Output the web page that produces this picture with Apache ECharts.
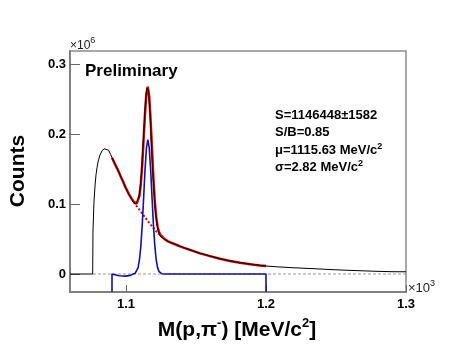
<!DOCTYPE html>
<html>
<head>
<meta charset="utf-8">
<script src="https://cdn.jsdelivr.net/npm/echarts@6/dist/echarts.min.js"></script>
<style>
  html, body { margin: 0; padding: 0; background: #ffffff; }
  #chart { width: 474px; height: 346px; }
</style>
</head>
<body>
<div id="chart"></div>
<script>
// ---- Data (x in units of 10^3 MeV/c^2, y in units of 10^6 counts) ----
const xTicks = [1.1, 1.2, 1.3];
const yTicks = [0, 0.1, 0.2, 0.3];

// data histogram (black)
const histX = [1.0600, 1.0762, 1.0764, 1.0771, 1.0779, 1.0786, 1.0793, 1.0800, 1.0814, 1.0829,
  1.0843, 1.0857, 1.0875,
  1.0890, 1.0905, 1.0920, 1.0935, 1.0950, 1.0965, 1.0980, 1.0995, 1.1010, 1.1025,
  1.1040, 1.1050, 1.1060, 1.1070, 1.1080, 1.1090, 1.1100, 1.1110, 1.1120, 1.1130,
  1.1140, 1.1150, 1.1160, 1.1170, 1.1180, 1.1190, 1.1200, 1.1210, 1.1220, 1.1230,
  1.1240, 1.1250, 1.1265, 1.1280, 1.1300, 1.1320, 1.1350, 1.1390, 1.1420, 1.1460,
  1.1490, 1.1530, 1.1600, 1.1670, 1.1740, 1.1810, 1.1890, 1.1960, 1.2000, 1.2100,
  1.2200, 1.2300, 1.2400, 1.2500, 1.2600, 1.2700, 1.2800, 1.2900, 1.3000];
const histY = [0, 0, 0.060, 0.102, 0.127, 0.142, 0.152, 0.160, 0.170, 0.176,
  0.179, 0.180, 0.177,
  0.171, 0.164, 0.158, 0.151, 0.145, 0.138, 0.132, 0.124, 0.118, 0.112,
  0.107, 0.103, 0.101, 0.100, 0.101, 0.108, 0.120, 0.142, 0.178, 0.213,
  0.248, 0.266, 0.262, 0.235, 0.193, 0.152, 0.117, 0.090, 0.073, 0.062,
  0.056, 0.053, 0.051, 0.049, 0.0466, 0.0448, 0.0425, 0.0394, 0.0370, 0.0344,
  0.0322, 0.0296, 0.0256, 0.0219, 0.0187, 0.0163, 0.0141, 0.0123, 0.0114, 0.0100,
  0.0089, 0.0080, 0.0070, 0.0060, 0.0052, 0.0045, 0.0038, 0.0033, 0.0032];

// total fit (red)
const fitX = [1.090, 1.092, 1.094, 1.096, 1.098, 1.100, 1.102, 1.104,
  1.1056, 1.1066, 1.1076, 1.1086, 1.1096, 1.1106, 1.1116, 1.1126, 1.1136, 1.1146,
  1.1156, 1.1166, 1.1176, 1.1186, 1.1196, 1.1206, 1.1216, 1.1226, 1.1236, 1.1246,
  1.1256, 1.128, 1.130, 1.132, 1.135, 1.1386, 1.1421, 1.1457, 1.1493, 1.1529,
  1.160, 1.1671, 1.1743, 1.1814, 1.1886, 1.1957, 1.200];
const fitY = [0.166, 0.1575, 0.1495, 0.1405, 0.1315, 0.1225, 0.1145, 0.1077,
  0.1031, 0.1011, 0.1005, 0.1032, 0.1118, 0.1290, 0.1567, 0.1929, 0.2303, 0.2587,
  0.2676, 0.2533, 0.2197, 0.1771, 0.1359, 0.1033, 0.0810, 0.0675, 0.0598, 0.0557,
  0.0531, 0.0492, 0.0466, 0.0448, 0.0425, 0.0395, 0.0370, 0.0345, 0.0320, 0.0295,
  0.0255, 0.0218, 0.0187, 0.0162, 0.0141, 0.0123, 0.0113];

// background under the peak (red dotted)
const bgX = [1.1056, 1.1076, 1.1096, 1.1116, 1.1136, 1.1156, 1.1176, 1.1196, 1.1216, 1.1236];
const bgY = [0.1027, 0.0971, 0.0918, 0.0865, 0.0811, 0.0756, 0.0705, 0.0657, 0.0610, 0.0564];

// signal (blue)
const sigX = [1.090, 1.090, 1.092, 1.095, 1.100, 1.103, 1.1046, 1.1056, 1.1066, 1.1076,
  1.1086, 1.1096, 1.1106, 1.1116, 1.1126, 1.1136, 1.1146, 1.1156, 1.1166, 1.1176,
  1.1186, 1.1196, 1.1206, 1.1216, 1.1226, 1.1236, 1.1246, 1.1256, 1.128, 1.200, 1.200];
const sigY = [-0.0257, 0, -0.001, -0.0025, -0.003, -0.002, -0.0005, 0.0004, 0.0012, 0.0034,
  0.0088, 0.0200, 0.0399, 0.0702, 0.1090, 0.1492, 0.1803, 0.1920, 0.1803, 0.1492,
  0.1090, 0.0702, 0.0399, 0.0200, 0.0088, 0.0034, 0.0012, 0.0004, 0, 0, -0.0257];

const zeroX = [1.0764, 1.3];
const zeroY = [0, 0];

const statLines = [
  ['S=1146448\u00b11582', ''],
  ['S/B=0.85', ''],
  ['\u03bc=1115.63 MeV/c', '2'],
  ['\u03c3=2.82 MeV/c', '2']
];

const pairs = (xs, ys) => xs.map((x, i) => [x, ys[i]]);
const FONT = "'Liberation Sans', Arial, Helvetica, sans-serif";

function supText(x, y, parts, base, sup, opts) {
  const txt = parts.map(p => p[1] ? '{s|' + p[0] + '}' : '{b|' + p[0] + '}').join('');
  return Object.assign({
    type: 'text', x: x, y: y, silent: true,
    style: {
      text: txt,
      textAlign: opts.align || 'left', align: opts.align || 'left',
      textVerticalAlign: 'middle', verticalAlign: 'middle',
      rich: {
        b: { fontFamily: FONT, fontSize: base.size, fontWeight: base.weight, lineHeight: base.lh, fill: base.color, color: base.color },
        s: { fontFamily: FONT, fontSize: sup.size, fontWeight: sup.weight, lineHeight: sup.lh, verticalAlign: 'top', fill: base.color, color: base.color }
      }
    }
  }, opts.extra || {});
}

const chart = echarts.init(document.getElementById('chart'), null, { renderer: 'canvas' });

const graphics = [];
graphics.push({
  type: 'text', x: 85, y: 71, silent: true,
  style: { text: 'Preliminary', font: 'bold 17px ' + FONT, fill: '#000',
    textAlign: 'left', align: 'left', textVerticalAlign: 'middle', verticalAlign: 'middle' }
});
const statY = [115, 132.5, 150, 167.5];
statLines.forEach((ln, i) => {
  const parts = [[ln[0], false]];
  if (ln[1]) parts.push([ln[1], true]);
  graphics.push(supText(275, statY[i], parts,
    { size: 13, weight: 'bold', lh: 16, color: '#000' },
    { size: 9, weight: 'bold', lh: 8 }, {}));
});
graphics.push({
  type: 'text', x: 18, y: 171, rotation: Math.PI / 2, silent: true,
  style: { text: 'Counts', font: 'bold 21px ' + FONT, fill: '#000',
    textAlign: 'center', align: 'center', textVerticalAlign: 'middle', verticalAlign: 'middle' }
});
graphics.push(supText(70, 46, [['\u00d710', false], ['6', true]],
  { size: 12, weight: 'normal', lh: 20, color: '#222' },
  { size: 9, weight: 'normal', lh: 6 }, {}));
graphics.push(supText(408, 288.5, [['\u00d710', false], ['3', true]],
  { size: 13, weight: 'normal', lh: 18, color: '#222' },
  { size: 9, weight: 'normal', lh: 6 }, {}));
graphics.push(supText(237, 330, [['M(p,\u03c0', false], ['-', true], [') [MeV/c', false], ['2', true], [']', false]],
  { size: 21, weight: 'bold', lh: 26, color: '#000' },
  { size: 13, weight: 'bold', lh: 11 }, { align: 'center' }));

chart.setOption({
  animation: false,
  backgroundColor: '#ffffff',
  grid: { left: 70, right: 68, top: 51, bottom: 54, show: true, borderColor: '#8a8a8a', borderWidth: 1.5, containLabel: false },
  xAxis: {
    type: 'value', min: 1.06, max: 1.3,
    axisLine: { show: true, onZero: false, lineStyle: { color: '#808080', width: 2 } },
    axisTick: { show: true, inside: true, length: 7, customValues: xTicks, lineStyle: { color: '#666', width: 1 } },
    axisLabel: { customValues: xTicks, margin: 6, fontFamily: FONT, fontSize: 13, fontWeight: 'bold', color: '#000',
      formatter: v => v.toFixed(1) },
    splitLine: { show: false }
  },
  yAxis: {
    type: 'value', min: -0.0257, max: 0.3186,
    axisLine: { show: true, onZero: false, lineStyle: { color: '#808080', width: 2 } },
    axisTick: { show: true, inside: true, length: 10, customValues: yTicks, lineStyle: { color: '#666', width: 1 } },
    axisLabel: { customValues: yTicks, margin: 4, fontFamily: FONT, fontSize: 13, fontWeight: 'bold', color: '#000',
      formatter: v => (Math.abs(v) < 1e-9 ? '0' : v.toFixed(1)) },
    splitLine: { show: false }
  },
  series: [
    { type: 'line', data: pairs(zeroX, zeroY), symbol: 'none', silent: true,
      lineStyle: { color: '#999', width: 1, type: [3, 2] } },
    { type: 'line', data: pairs(fitX, fitY), symbol: 'none', silent: true,
      lineStyle: { color: '#e00000', width: 2.5 } },
    { type: 'line', data: pairs(bgX, bgY), symbol: 'none', silent: true,
      lineStyle: { color: '#e00000', width: 2, type: [2, 2] } },
    { type: 'line', data: pairs(histX, histY), symbol: 'none', silent: true,
      lineStyle: { color: '#000', width: 1 } },
    { type: 'line', data: pairs(sigX, sigY), symbol: 'none', silent: true,
      lineStyle: { color: '#1010b0', width: 1.6 } }
  ],
  graphic: graphics
});
</script>
</body>
</html>
